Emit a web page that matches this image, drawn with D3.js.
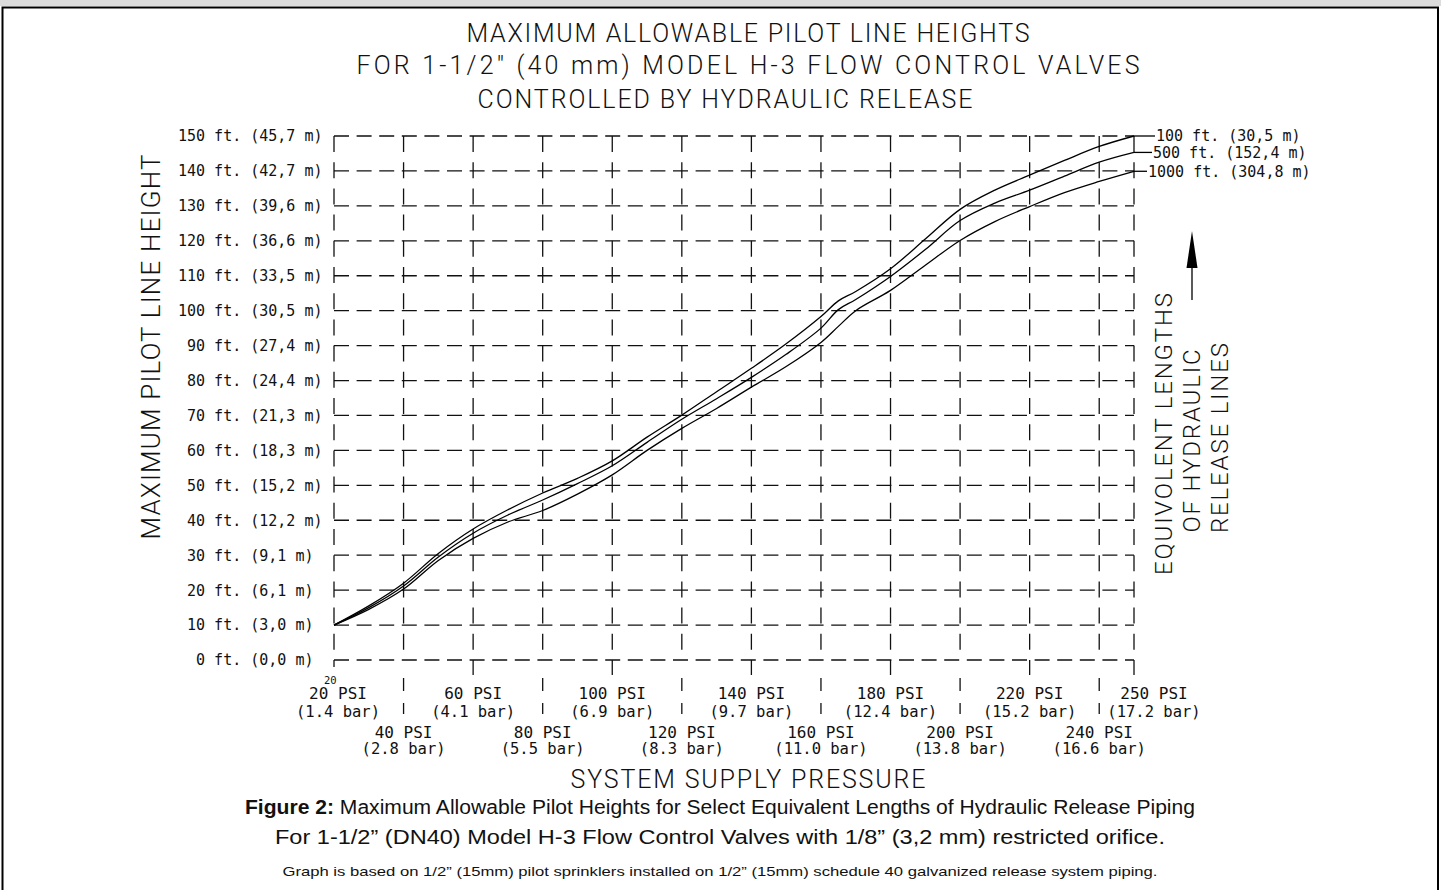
<!DOCTYPE html>
<html><head><meta charset="utf-8">
<script src="https://cdn.jsdelivr.net/npm/d3@7"></script>
<style>
html,body{margin:0;padding:0;background:#fff;overflow:hidden;}
svg{display:block;}
.cad{font-family:"DejaVu Sans Mono",monospace;fill:#111;white-space:pre;}
.ttl{font-family:"Roboto","DejaVu Sans",sans-serif;font-weight:300;fill:#111;}
.cap{font-family:"Liberation Sans",Arial,sans-serif;fill:#111;}
</style></head><body>
<svg id="c" width="1441" height="890"></svg>
<script>
// ---------- data ----------
const pressurePsi = [20,30,40,50,60,70,80,90,100,110,120,130,140,150,160,165,170,180,190,200,210,220,230,240,250];
const height100ft  = [10,15.5,22,30.5,37.5,43,47.8,52,57,63.8,70.1,76.8,83.5,90.5,98.3,102.8,105.5,112,120.5,129,134.5,138.8,143,147,150];
const height500ft  = [10,15,21.2,29.5,36.3,41.5,45.8,50.5,55.6,62.3,68.9,74.8,80.9,87.5,95,100.3,103.2,109.8,117.5,125.8,130.8,134.5,138.5,142.5,145.3];
const height1000ft = [10,14.5,20.3,28.5,34.8,39.5,42.8,47.5,53,60,66.3,72,78.1,84,90.9,95.5,100,105.8,113,120.1,125.5,129.8,133.8,137,139.9];
const seriesLabels = ["100 ft. (30,5 m)","500 ft. (152,4 m)","1000 ft. (304,8 m)"];

const yTicksFt = [0,10,20,30,40,50,60,70,80,90,100,110,120,130,140,150];
const yTicksM  = ["0,0","3,0","6,1","9,1","12,2","15,2","18,3","21,3","24,4","27,4","30,5","33,5","36,6","39,6","42,7","45,7"];
const xTicksPsi = [20,40,60,80,100,120,140,160,180,200,220,240,250];
const xTicksBar = ["1.4","2.8","4.1","5.5","6.9","8.3","9.7","11.0","12.4","13.8","15.2","16.6","17.2"];

const titleLines = ["MAXIMUM ALLOWABLE PILOT LINE HEIGHTS",
  "FOR 1-1/2\u2033 (40 mm) MODEL H-3 FLOW CONTROL VALVES",
  "CONTROLLED BY HYDRAULIC RELEASE"];
const xTitle = "SYSTEM SUPPLY PRESSURE";
const yTitle = "MAXIMUM PILOT LINE HEIGHT";
const rightTitle = ["EQUIVOLENT LENGTHS","OF HYDRAULIC","RELEASE LINES"];
const captionBold = "Figure 2:";
const caption1 = " Maximum Allowable Pilot Heights for Select Equivalent Lengths of Hydraulic Release Piping";
const caption2 = "For 1-1/2\u201D (DN40) Model H-3 Flow Control Valves with 1/8\u201D (3,2 mm) restricted orifice.";
const caption3 = "Graph is based on 1/2\u201D (15mm) pilot sprinklers installed on 1/2\u201D (15mm) schedule 40 galvanized release system piping.";

// ---------- drawing ----------
const svg = d3.select("#c");
svg.append("rect").attr("x",0).attr("y",0).attr("width",1441).attr("height",6).attr("fill","#dcdcdc");
svg.append("rect").attr("x",2.5).attr("y",7.5).attr("width",1435.5).attr("height",900)
  .attr("fill","none").attr("stroke","#000").attr("stroke-width",2);

const x = d3.scaleLinear().domain([20,250]).range([334,1134]);
const y = d3.scaleLinear().domain([0,150]).range([660,136]);

const g = svg.append("g");
// horizontal grid
g.selectAll(".hg").data(yTicksFt).join("line")
  .attr("x1",x(20)).attr("x2",x(250)).attr("y1",d=>y(d)).attr("y2",d=>y(d))
  .attr("stroke","#111").attr("stroke-width",1.3).attr("stroke-dasharray","15,7.6");
// vertical grid
g.selectAll(".vg").data(xTicksPsi).join("line")
  .attr("x1",d=>x(d)).attr("x2",d=>x(d)).attr("y1",y(150)).attr("y2",y(0))
  .attr("stroke","#111").attr("stroke-width",1.3).attr("stroke-dasharray","16,10.2");
// extensions below axis
g.selectAll(".ve").data(xTicksPsi).join("line")
  .attr("x1",d=>x(d)).attr("x2",d=>x(d)).attr("y1",y(0))
  .attr("y2",(d,i)=> i%2===1 ? 714 : (i===0 ? 667 : 675))
  .attr("stroke","#111").attr("stroke-width",1.3)
  .attr("stroke-dasharray",(d,i)=> i%2===1 ? "0,18,13,12,11,100" : null);

// y tick labels
g.selectAll(".yl").data(yTicksFt).join("text").attr("class","cad")
  .attr("x",178).attr("y",d=>y(d)).attr("dy","0.36em").attr("font-size",15)
  .text((d,i)=> String(d).padStart(3," ")+" ft. ("+yTicksM[i]+" m)");

// x tick labels
const xl = g.selectAll(".xl").data(xTicksPsi).join("g")
  .attr("transform",(d,i)=>`translate(${x(d)+(i===xTicksPsi.length-1?20:(i===0?4:0))},0)`);
xl.append("text").attr("class","cad").attr("text-anchor","middle").attr("font-size",16)
  .attr("y",(d,i)=> i%2===0 ? 699 : 738).text(d=>d+" PSI");
xl.append("text").attr("class","cad").attr("text-anchor","middle").attr("font-size",15.5)
  .attr("y",(d,i)=> i%2===0 ? 717 : 754).text((d,i)=>"("+xTicksBar[i]+" bar)");
g.append("text").attr("class","cad").attr("x",x(20)-10).attr("y",684).attr("font-size",10.5).text(xTicksPsi[0]);

// curves
const series = [height100ft,height500ft,height1000ft];
const line = d3.line().x((d,i)=>x(pressurePsi[i])).y(d=>y(d)).curve(d3.curveCatmullRom.alpha(0.5));
g.selectAll(".curve").data(series).join("path")
  .attr("d",d=>line(d)).attr("fill","none").attr("stroke","#000").attr("stroke-width",1.3);

// legend leaders + labels
const lead = [21,18,13];
series.forEach((s,i)=>{
  const yy = y(s[s.length-1]);
  g.append("line").attr("x1",x(250)).attr("x2",x(250)+lead[i]).attr("y1",yy).attr("y2",yy)
    .attr("stroke","#000").attr("stroke-width",1.3);
  g.append("text").attr("class","cad").attr("font-size",15).attr("x",x(250)+lead[i]+1)
    .attr("y",yy).attr("dy","0.36em").text(seriesLabels[i]);
});

// arrow
g.append("line").attr("x1",1192).attr("x2",1192).attr("y1",265).attr("y2",300).attr("stroke","#000").attr("stroke-width",1.3);
g.append("path").attr("d","M1192,231 L1186.5,268 L1197.5,268 Z").attr("fill","#000");

// titles
const tpos = [[748,42,563],[748,74,783],[725,108,495]];
titleLines.forEach((t,i)=>{
  svg.append("text").attr("class","ttl").attr("text-anchor","middle").attr("font-size",25)
    .attr("x",tpos[i][0]).attr("y",tpos[i][1]).attr("textLength",tpos[i][2]).attr("lengthAdjust","spacing").text(t);
});
svg.append("text").attr("class","ttl").attr("text-anchor","middle").attr("font-size",25)
  .attr("x",748).attr("y",788).attr("textLength",355).attr("lengthAdjust","spacing").text(xTitle);
svg.append("text").attr("class","ttl").attr("text-anchor","middle").attr("font-size",26)
  .attr("transform","translate(160,347) rotate(-90)").attr("textLength",385).attr("lengthAdjust","spacing").text(yTitle);
const rpos = [[1172,434,282],[1200,441,183],[1228,438,190]];
rightTitle.forEach((t,i)=>{
  svg.append("text").attr("class","ttl").attr("text-anchor","middle").attr("font-size",24)
    .attr("transform",`translate(${rpos[i][0]},${rpos[i][1]}) rotate(-90)`)
    .attr("textLength",rpos[i][2]).attr("lengthAdjust","spacing").text(t);
});

// captions
const c1 = svg.append("text").attr("class","cap").attr("text-anchor","middle").attr("font-size",20)
  .attr("x",720).attr("y",814).attr("textLength",950).attr("lengthAdjust","spacingAndGlyphs");
c1.append("tspan").attr("font-weight","bold").text(captionBold);
c1.append("tspan").text(caption1);
svg.append("text").attr("class","cap").attr("text-anchor","middle").attr("font-size",20)
  .attr("x",720).attr("y",844).attr("textLength",890).attr("lengthAdjust","spacingAndGlyphs").text(caption2);
svg.append("text").attr("class","cap").attr("text-anchor","middle").attr("font-size",13)
  .attr("x",720).attr("y",876).attr("textLength",875).attr("lengthAdjust","spacingAndGlyphs").text(caption3);
</script>
</body></html>
